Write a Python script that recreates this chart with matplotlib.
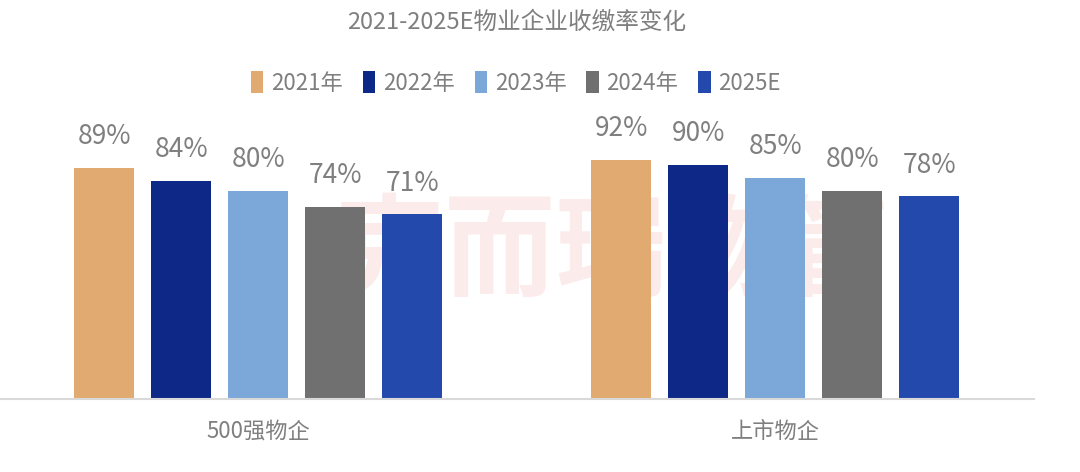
import numpy as np
import matplotlib.pyplot as plt

plt.rcParams['font.family'] = ['Noto Sans CJK SC', 'DejaVu Sans']

categories = ["500强物企", "上市物企"]
series = ["2021年", "2022年", "2023年", "2024年", "2025E"]
values = {
    "2021年": [89, 92],
    "2022年": [84, 90],
    "2023年": [80, 85],
    "2024年": [74, 80],
    "2025E": [71, 78],
}
colors = ["#E0AA70", "#0E2888", "#7BA7D9", "#707070", "#2449AC"]
text_color = "#7f7f7f"

fig = plt.figure(figsize=(10.8, 4.72), dpi=100)

# faint watermark, drawn behind the axes
fig.text(612 / 1080, 1 - 256 / 472, "克而瑞物管", fontsize=80, fontweight="bold",
         color="#fcebeb", ha="center", va="center", zorder=-1)

ax = fig.add_axes([0.0, 1 - 399 / 472, 0.957, 260 / 472])
ax.patch.set_alpha(0)

x = np.arange(len(categories))
width = 0.116
step = 0.149
for i, name in enumerate(series):
    pos = x + (i - 2) * step
    bars = ax.bar(pos, values[name], width, color=colors[i], label=name, zorder=2)
    for b, v in zip(bars, values[name]):
        ax.annotate(f"{v}%", (b.get_x() + b.get_width() / 2, v),
                    xytext=(0, 17), textcoords="offset points",
                    ha="center", va="baseline", fontsize=19, color=text_color)

ax.set_xlim(-0.5, 1.5)
ax.set_ylim(0, 100)
ax.set_xticks(x)
ax.set_xticklabels(categories, fontsize=16, color=text_color)
ax.tick_params(axis="x", length=0, pad=15)
ax.set_yticks([])
for s in ["top", "right", "left"]:
    ax.spines[s].set_visible(False)
ax.spines["bottom"].set_color("#d9d9d9")
ax.spines["bottom"].set_linewidth(1.5)

fig.text(517 / 1080, 1 - 22 / 472, "2021-2025E物业企业收缴率变化",
         fontsize=17, color=text_color, ha="center", va="center")

leg = fig.legend(loc="center", bbox_to_anchor=(516 / 1080, 1 - 83 / 472), ncol=5,
                 frameon=False, fontsize=16, handlelength=0.55, handleheight=1.1,
                 handletextpad=0.35, columnspacing=0.9)
for t in leg.get_texts():
    t.set_color(text_color)

fig.savefig("out.png", dpi=100, facecolor="white")
